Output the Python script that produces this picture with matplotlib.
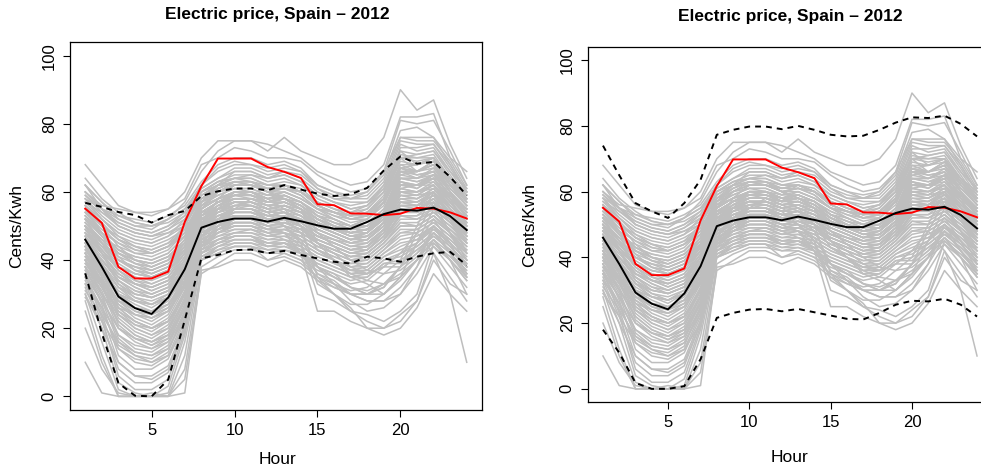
import matplotlib
matplotlib.use("Agg")
import matplotlib.pyplot as plt

plt.rcParams['font.family'] = ['Liberation Sans', 'DejaVu Sans']

hours = list(range(1, 25))
title = "Electric price, Spain \u2013 2012"
xlabel = "Hour"
ylabel = "Cents/Kwh"
xticks = [5, 10, 15, 20]
yticks = [0, 20, 40, 60, 80, 100]

# daily price curves (gray)
daily_prices = [
    [62, 57, 52, 50, 49, 52, 57, 66, 72, 75, 75, 72, 76, 72, 70, 68, 68, 70, 76, 90, 84, 87, 74, 64],
    [68, 62, 56, 54, 53, 55, 60, 70, 75, 75, 75, 74, 72, 70, 66, 64, 62, 63, 68, 82, 82, 83, 70, 66],
    [60, 56, 55, 54, 54, 55, 58, 68, 70, 73, 72, 70, 70, 69, 65, 62, 60, 61, 66, 81, 80, 81, 72, 62],
    [58, 55, 53, 52, 51, 53, 56, 63, 68, 70, 70, 68, 69, 67, 62, 60, 59, 60, 65, 78, 79, 76, 68, 60],
    [64, 58, 54, 51, 50, 52, 55, 62, 67, 69, 68, 67, 68, 66, 62, 60, 58, 59, 64, 76, 75, 75, 69, 61],
    [57, 54, 51, 49, 48, 50, 54, 62, 66, 68, 68, 66, 67, 66, 61, 59, 58, 58, 63, 75, 74, 74, 67, 60],
    [59, 55, 50, 48, 47, 49, 53, 61, 64, 67, 67, 65, 66, 65, 61, 58, 57, 57, 62, 74, 72, 73, 66, 59],
    [56, 52, 48, 46, 45, 47, 52, 60, 63, 65, 65, 64, 65, 63, 59, 57, 55, 56, 61, 72, 71, 72, 65, 58],
    [55, 50, 46, 44, 43, 45, 50, 59, 62, 64, 64, 62, 63, 62, 58, 56, 54, 55, 60, 71, 70, 70, 64, 57],
    [58, 52, 47, 44, 42, 44, 50, 60, 63, 64, 63, 62, 62, 61, 57, 55, 53, 54, 59, 70, 69, 70, 63, 58],
    [54, 49, 45, 42, 41, 43, 48, 58, 61, 63, 62, 61, 62, 60, 57, 55, 53, 53, 58, 69, 68, 69, 62, 56],
    [53, 48, 43, 41, 40, 42, 47, 57, 60, 62, 62, 60, 61, 60, 56, 54, 52, 52, 57, 68, 66, 68, 61, 56],
    [56, 50, 44, 40, 38, 40, 46, 57, 61, 63, 62, 61, 61, 59, 55, 53, 51, 52, 56, 67, 66, 67, 60, 55],
    [52, 47, 42, 39, 37, 39, 45, 56, 59, 61, 61, 59, 60, 58, 55, 52, 50, 51, 55, 66, 65, 66, 60, 54],
    [51, 46, 40, 37, 36, 38, 44, 55, 58, 60, 60, 58, 59, 57, 54, 52, 50, 50, 54, 65, 64, 65, 59, 54],
    [55, 48, 41, 37, 35, 37, 43, 55, 58, 60, 59, 58, 58, 57, 53, 51, 49, 50, 54, 64, 63, 64, 58, 53],
    [50, 44, 38, 35, 33, 35, 42, 54, 57, 59, 59, 57, 58, 56, 53, 50, 49, 49, 53, 63, 62, 63, 58, 53],
    [49, 43, 37, 34, 32, 34, 41, 54, 57, 58, 58, 57, 57, 55, 52, 50, 48, 49, 53, 62, 62, 62, 57, 52],
    [52, 45, 37, 33, 31, 33, 40, 53, 56, 58, 58, 56, 57, 55, 52, 49, 48, 48, 52, 61, 60, 62, 56, 52],
    [48, 42, 35, 32, 30, 32, 40, 53, 55, 57, 57, 56, 56, 54, 51, 49, 47, 48, 52, 60, 60, 61, 56, 51],
    [47, 40, 34, 30, 29, 31, 39, 52, 55, 57, 56, 55, 55, 54, 51, 49, 47, 47, 51, 59, 59, 60, 55, 51],
    [50, 42, 33, 29, 27, 30, 38, 52, 54, 56, 56, 54, 55, 53, 50, 48, 46, 47, 51, 58, 58, 60, 55, 50],
    [46, 39, 32, 28, 26, 29, 37, 51, 54, 55, 55, 54, 54, 53, 50, 48, 46, 46, 50, 57, 57, 59, 54, 50],
    [45, 38, 30, 27, 25, 28, 36, 51, 53, 55, 55, 53, 54, 52, 49, 47, 45, 46, 50, 57, 56, 58, 54, 49],
    [47, 39, 30, 26, 24, 27, 35, 50, 53, 54, 54, 53, 53, 52, 49, 47, 45, 45, 49, 56, 56, 57, 53, 49],
    [44, 37, 29, 25, 23, 26, 34, 50, 52, 54, 54, 52, 53, 51, 48, 46, 44, 45, 49, 55, 55, 57, 53, 48],
    [43, 36, 28, 24, 22, 25, 33, 49, 52, 53, 53, 52, 52, 51, 48, 46, 44, 44, 48, 55, 54, 56, 52, 48],
    [46, 37, 27, 23, 21, 24, 33, 49, 51, 53, 53, 51, 52, 50, 47, 45, 43, 44, 48, 54, 54, 56, 52, 47],
    [42, 35, 26, 22, 20, 23, 32, 48, 51, 52, 52, 51, 51, 50, 47, 45, 43, 43, 47, 53, 53, 55, 51, 47],
    [41, 34, 25, 21, 19, 22, 31, 48, 50, 52, 52, 50, 51, 49, 46, 44, 42, 43, 47, 53, 52, 55, 51, 46],
    [44, 35, 24, 20, 18, 21, 30, 47, 50, 51, 51, 50, 50, 49, 46, 44, 42, 42, 46, 52, 52, 54, 50, 46],
    [40, 33, 23, 19, 17, 20, 30, 47, 49, 51, 51, 49, 50, 48, 45, 43, 41, 42, 46, 51, 51, 54, 50, 45],
    [39, 32, 22, 18, 16, 19, 29, 46, 49, 50, 50, 49, 49, 48, 45, 43, 41, 41, 45, 51, 50, 53, 49, 45],
    [42, 33, 21, 17, 15, 18, 28, 46, 48, 50, 50, 48, 49, 47, 44, 42, 40, 41, 45, 50, 50, 53, 49, 44],
    [38, 31, 20, 16, 14, 17, 27, 45, 48, 49, 49, 48, 48, 47, 44, 42, 40, 40, 44, 49, 49, 52, 48, 44],
    [37, 29, 18, 14, 13, 16, 26, 45, 47, 49, 49, 47, 48, 46, 43, 41, 39, 40, 44, 48, 49, 52, 48, 43],
    [40, 30, 17, 13, 12, 15, 25, 44, 47, 48, 48, 47, 47, 46, 43, 41, 39, 39, 43, 48, 48, 51, 47, 43],
    [36, 28, 16, 12, 11, 14, 24, 44, 46, 48, 48, 46, 47, 45, 42, 40, 38, 39, 43, 47, 48, 51, 47, 42],
    [35, 26, 14, 10, 9, 12, 23, 43, 46, 47, 47, 46, 46, 45, 42, 40, 38, 38, 42, 46, 47, 50, 46, 42],
    [38, 27, 12, 8, 8, 11, 22, 43, 45, 47, 47, 45, 46, 44, 41, 39, 37, 38, 42, 45, 46, 50, 46, 41],
    [34, 24, 10, 6, 6, 9, 21, 42, 45, 46, 46, 45, 45, 44, 41, 39, 37, 37, 41, 44, 46, 49, 45, 40],
    [33, 22, 8, 4, 4, 7, 20, 42, 44, 46, 46, 44, 45, 43, 40, 38, 36, 37, 41, 43, 45, 49, 45, 40],
    [36, 23, 6, 2, 2, 5, 19, 41, 44, 45, 45, 44, 44, 43, 40, 38, 36, 36, 40, 42, 44, 48, 44, 39],
    [32, 20, 4, 1, 0, 3, 18, 41, 43, 45, 45, 43, 44, 42, 39, 37, 35, 36, 40, 41, 44, 48, 44, 39],
    [30, 16, 2, 0, 0, 1, 16, 40, 43, 44, 44, 43, 43, 42, 39, 37, 35, 35, 39, 40, 43, 47, 43, 38],
    [28, 12, 0, 0, 0, 0, 12, 40, 42, 44, 44, 42, 43, 41, 38, 36, 34, 35, 39, 39, 43, 47, 43, 38],
    [25, 10, 0, 0, 0, 0, 8, 38, 41, 43, 43, 42, 42, 40, 37, 35, 33, 34, 38, 38, 42, 46, 42, 37],
    [20, 8, 1, 0, 1, 0, 5, 36, 39, 42, 42, 40, 41, 39, 35, 33, 31, 32, 36, 37, 41, 45, 41, 36],
    [10, 1, 0, 0, 0, 0, 1, 37, 38, 40, 40, 38, 40, 38, 34, 32, 30, 30, 33, 35, 40, 44, 40, 35],
    [50, 45, 40, 38, 36, 38, 44, 55, 60, 63, 63, 60, 58, 55, 45, 40, 35, 33, 30, 35, 45, 55, 48, 40],
    [48, 42, 36, 33, 32, 34, 40, 52, 55, 57, 57, 55, 52, 48, 38, 33, 28, 25, 26, 30, 38, 50, 42, 35],
    [53, 47, 42, 40, 39, 41, 46, 56, 58, 60, 60, 58, 55, 50, 35, 30, 25, 24, 22, 25, 30, 45, 40, 30],
    [45, 40, 35, 32, 30, 32, 38, 50, 52, 55, 55, 52, 50, 45, 30, 28, 25, 22, 20, 22, 28, 42, 35, 28],
    [47, 42, 38, 36, 35, 37, 42, 52, 55, 56, 56, 54, 50, 45, 33, 30, 26, 20, 18, 20, 26, 36, 30, 25],
    [44, 38, 32, 30, 29, 31, 37, 48, 50, 52, 52, 50, 48, 42, 25, 25, 22, 20, 20, 24, 28, 40, 33, 30],
    [46, 40, 34, 31, 30, 32, 38, 50, 53, 55, 55, 53, 52, 50, 45, 42, 38, 36, 38, 42, 48, 42, 30, 10],
    [42, 36, 30, 28, 27, 29, 35, 46, 48, 50, 50, 48, 46, 43, 38, 36, 32, 30, 32, 38, 45, 52, 45, 36],
    [52, 47, 43, 41, 40, 42, 47, 55, 60, 62, 62, 60, 58, 55, 48, 44, 40, 37, 36, 40, 50, 60, 52, 42],
    [49, 43, 38, 35, 34, 36, 42, 54, 57, 58, 58, 56, 54, 50, 43, 40, 36, 34, 33, 38, 48, 57, 48, 38],
    [60, 55, 52, 50, 50, 52, 55, 60, 62, 62, 62, 60, 60, 58, 55, 54, 53, 54, 58, 65, 66, 68, 62, 58],
    [38, 30, 22, 18, 16, 18, 28, 50, 58, 62, 62, 60, 61, 60, 56, 54, 52, 53, 58, 70, 70, 71, 64, 58],
    [30, 20, 10, 6, 5, 8, 20, 48, 55, 60, 60, 58, 59, 57, 54, 52, 50, 52, 57, 68, 68, 70, 62, 56],
    [56, 50, 46, 44, 43, 45, 48, 52, 52, 53, 53, 51, 52, 50, 47, 46, 45, 46, 50, 60, 60, 62, 57, 52],
    [62, 55, 50, 48, 47, 48, 50, 54, 55, 55, 55, 53, 54, 52, 50, 49, 48, 49, 52, 62, 62, 64, 58, 55],
    [44, 36, 26, 22, 20, 22, 30, 45, 50, 55, 58, 57, 58, 56, 52, 50, 48, 49, 54, 66, 66, 68, 60, 52],
    [35, 25, 15, 12, 10, 13, 25, 46, 52, 56, 57, 55, 56, 54, 50, 48, 46, 48, 53, 64, 64, 66, 58, 50],
    [50, 46, 44, 42, 42, 44, 48, 57, 62, 66, 66, 64, 66, 64, 60, 58, 58, 60, 66, 76, 76, 76, 70, 62],
    [48, 44, 40, 38, 37, 39, 44, 53, 57, 60, 60, 58, 60, 58, 55, 54, 53, 55, 60, 73, 73, 74, 68, 60],
    [42, 34, 24, 20, 18, 20, 28, 44, 48, 50, 50, 48, 49, 47, 44, 42, 40, 41, 45, 50, 50, 53, 48, 42],
    [40, 32, 25, 22, 20, 22, 30, 42, 46, 48, 49, 47, 48, 46, 43, 40, 37, 36, 38, 42, 45, 50, 45, 40],
    [52, 48, 45, 43, 42, 44, 47, 56, 60, 61, 60, 59, 62, 60, 57, 55, 54, 56, 62, 72, 68, 70, 63, 57],
    [47, 41, 36, 33, 31, 33, 39, 51, 56, 59, 60, 57, 59, 57, 53, 52, 50, 52, 57, 67, 65, 66, 60, 54],
    [58, 53, 49, 47, 46, 48, 51, 58, 62, 64, 65, 63, 64, 62, 59, 57, 55, 56, 60, 70, 66, 69, 64, 60],
    [43, 37, 31, 28, 27, 29, 36, 49, 54, 57, 57, 55, 56, 55, 51, 49, 47, 48, 53, 63, 61, 64, 57, 51],
    [54, 50, 47, 45, 44, 46, 49, 57, 59, 61, 61, 59, 59, 57, 53, 51, 50, 50, 53, 61, 62, 65, 59, 55],
    [39, 33, 27, 24, 23, 25, 33, 47, 52, 55, 56, 54, 55, 53, 49, 47, 45, 46, 51, 60, 59, 62, 55, 49],
    [60, 55, 51, 49, 48, 50, 53, 60, 63, 64, 64, 62, 62, 60, 56, 54, 53, 54, 58, 67, 68, 70, 64, 59],
    [45, 40, 35, 33, 32, 34, 40, 51, 55, 57, 57, 55, 56, 54, 50, 48, 46, 47, 51, 59, 58, 61, 55, 50],
    [50, 45, 41, 39, 38, 40, 44, 54, 57, 59, 59, 57, 58, 56, 52, 50, 49, 50, 55, 64, 64, 66, 60, 55],
    [41, 34, 28, 26, 25, 27, 34, 47, 51, 53, 53, 51, 52, 50, 47, 45, 43, 44, 48, 56, 55, 58, 52, 47],
    [57, 52, 48, 46, 45, 47, 50, 58, 60, 62, 62, 60, 61, 59, 55, 53, 52, 53, 57, 66, 64, 67, 61, 56],
    [48, 42, 38, 36, 35, 37, 42, 52, 56, 58, 58, 56, 57, 55, 51, 49, 47, 48, 52, 61, 60, 63, 57, 52],
    [53, 48, 43, 40, 39, 41, 46, 55, 58, 60, 60, 58, 59, 57, 53, 51, 49, 50, 54, 63, 62, 65, 59, 54],
    [37, 30, 24, 21, 20, 22, 30, 45, 50, 53, 53, 51, 52, 50, 47, 45, 43, 44, 49, 57, 57, 60, 53, 47],
    [62, 57, 53, 51, 50, 51, 54, 61, 64, 66, 66, 64, 65, 63, 59, 57, 56, 57, 61, 70, 71, 72, 66, 61],
    [45, 39, 33, 30, 29, 31, 38, 50, 54, 56, 56, 54, 55, 53, 49, 47, 45, 46, 50, 58, 57, 60, 54, 49],
    [51, 46, 42, 40, 39, 41, 45, 55, 58, 59, 58, 57, 58, 56, 52, 50, 48, 49, 53, 62, 61, 64, 58, 53],
    [33, 26, 18, 15, 14, 16, 24, 44, 49, 52, 52, 50, 51, 49, 46, 44, 42, 43, 47, 55, 55, 58, 52, 46],
    [56, 51, 46, 43, 42, 44, 49, 57, 61, 63, 63, 61, 62, 60, 56, 54, 52, 53, 57, 66, 66, 68, 62, 57],
    [46, 40, 34, 31, 29, 31, 38, 50, 55, 58, 58, 56, 57, 55, 52, 50, 48, 49, 54, 64, 63, 65, 59, 53],
    [29, 22, 14, 11, 10, 12, 20, 43, 48, 51, 51, 49, 50, 48, 45, 43, 41, 42, 46, 53, 53, 57, 51, 45],
    [49, 44, 39, 36, 35, 37, 43, 53, 56, 57, 57, 55, 56, 54, 50, 48, 46, 47, 51, 60, 59, 62, 56, 51],
    [54, 48, 42, 39, 38, 40, 45, 54, 57, 59, 59, 57, 57, 55, 51, 49, 48, 49, 53, 62, 62, 65, 59, 53],
    [36, 28, 20, 17, 15, 17, 26, 45, 50, 53, 53, 51, 52, 50, 46, 44, 42, 43, 48, 56, 56, 60, 53, 47],
    [44, 38, 32, 29, 28, 30, 37, 49, 53, 55, 55, 53, 54, 52, 48, 46, 44, 45, 49, 57, 56, 59, 53, 48],
    [59, 54, 50, 48, 47, 49, 52, 59, 62, 63, 63, 61, 62, 60, 56, 54, 53, 54, 58, 67, 66, 69, 63, 58],
    [40, 34, 28, 25, 24, 26, 33, 47, 51, 54, 54, 52, 53, 51, 47, 45, 43, 44, 48, 56, 56, 59, 53, 47],
    [51, 45, 40, 37, 36, 38, 43, 53, 57, 59, 59, 57, 58, 56, 52, 50, 48, 49, 53, 62, 62, 64, 58, 53],
    [31, 24, 16, 13, 12, 14, 23, 44, 49, 52, 52, 50, 51, 49, 45, 43, 41, 42, 46, 54, 54, 58, 52, 45],
    [48, 43, 37, 34, 33, 35, 41, 52, 55, 57, 57, 55, 56, 54, 50, 48, 46, 47, 51, 59, 58, 61, 55, 50],
    [40, 34, 28, 26, 25, 27, 33, 40, 42, 44, 44, 40, 42, 40, 35, 32, 30, 30, 32, 38, 42, 48, 42, 36],
    [45, 40, 35, 33, 32, 34, 38, 44, 46, 47, 47, 44, 45, 42, 36, 34, 30, 28, 28, 32, 38, 46, 40, 34],
    [38, 32, 26, 24, 23, 25, 32, 42, 45, 47, 47, 45, 45, 42, 34, 30, 27, 27, 30, 35, 40, 48, 42, 35],
    [50, 45, 40, 38, 37, 39, 43, 50, 52, 54, 54, 52, 50, 46, 38, 35, 32, 30, 30, 34, 40, 50, 44, 38],
    [42, 36, 30, 28, 27, 29, 34, 46, 49, 51, 51, 49, 48, 44, 36, 33, 30, 28, 28, 30, 36, 44, 38, 32],
    [35, 28, 20, 17, 16, 18, 26, 40, 44, 46, 46, 44, 45, 43, 38, 35, 32, 31, 33, 36, 40, 46, 40, 34],
]

# highlighted day (red)
highlight = [55.1, 50.9, 38.0, 34.6, 34.6, 36.6, 51.2, 61.7, 69.8, 69.8, 69.8, 67.3,
             65.9, 64.1, 56.4, 56.1, 53.7, 53.6, 53.2, 53.6, 55.3, 55.1, 54.0, 52.2]
# central curve (black solid)
center = [46.0, 38.0, 29.3, 25.9, 24.2, 29.0, 37.3, 49.5, 51.2, 52.2, 52.2, 51.3,
          52.4, 51.4, 50.2, 49.2, 49.2, 51.2, 53.5, 54.8, 54.5, 55.4, 52.9, 48.8]
# left panel bands (dashed)
left_upper = [56.8, 55.6, 54.1, 53.2, 51.0, 53.2, 54.4, 58.8, 60.2, 61.0, 61.0, 60.5,
              62.0, 60.7, 59.5, 58.8, 59.3, 61.2, 66.3, 70.4, 68.3, 68.8, 64.4, 59.0]
left_lower = [36.1, 18.5, 3.9, 0.2, 0.0, 4.9, 22.4, 40.5, 41.5, 42.9, 43.1, 42.0,
              42.7, 41.5, 40.5, 39.5, 39.0, 41.0, 40.5, 39.5, 41.0, 42.0, 42.4, 38.5]
# right panel bands (dashed)
right_upper = [74.0, 65.0, 56.5, 54.0, 52.0, 56.5, 63.6, 77.3, 78.8, 79.8, 79.8, 79.0,
               80.0, 78.8, 77.3, 76.8, 77.0, 78.8, 81.0, 82.6, 82.4, 83.1, 80.6, 76.8]
right_lower = [18.0, 11.0, 1.8, 0.0, 0.0, 0.8, 9.0, 21.6, 23.1, 24.1, 24.3, 23.6,
               24.3, 23.3, 22.3, 21.3, 21.1, 23.1, 25.6, 26.8, 26.6, 27.4, 25.6, 22.0]

W, H = 981, 470
fig = plt.figure(figsize=(W / 100, H / 100), dpi=100)


def px_axes(x0, y0, x1, y1):
    return fig.add_axes([x0 / W, 1 - y1 / H, (x1 - x0) / W, (y1 - y0) / H])


def draw_panel(ax, upper, lower):
    for row in daily_prices:
        ax.plot(hours, row, color='#BEBEBE', lw=1.1, zorder=1)
    ax.plot(hours, highlight, color='#FF0000', lw=1.4, zorder=3)
    ax.plot(hours, center, color='black', lw=1.4, zorder=4)
    ax.plot(hours, upper, color='black', lw=1.4, ls=(0, (3, 2.6)), zorder=5)
    ax.plot(hours, lower, color='black', lw=1.4, ls=(0, (3, 2.6)), zorder=5)
    ax.set_xlim(0.08, 24.92)
    ax.set_ylim(-4, 104)
    ax.set_xticks(xticks)
    ax.set_yticks(yticks)
    ax.tick_params(direction='out', length=5, width=0.8, labelsize=12, pad=4.5)
    for lab in ax.get_yticklabels():
        lab.set_rotation(90)
        lab.set_va('center')
    for s in ax.spines.values():
        s.set_linewidth(0.9)
        s.set_color('black')


ax1 = px_axes(70, 42, 482, 410)
draw_panel(ax1, left_upper, left_lower)
ax2 = px_axes(588, 47, 992, 402)
draw_panel(ax2, right_upper, right_lower)


def ftext(x, y, s, **kw):
    fig.text(x / W, 1 - y / H, s, ha='center', va='center', **kw)


ftext(277, 14, title, fontsize=12.5, fontweight='bold')
ftext(790, 17, title, fontsize=12.5, fontweight='bold')
ftext(17, 226, ylabel, fontsize=12.5, rotation=90)
ftext(530, 225, ylabel, fontsize=12.5, rotation=90)
ftext(277, 460, xlabel, fontsize=12.5)
ftext(789, 457, xlabel, fontsize=12.5)

fig.savefig("out.png", dpi=100)
